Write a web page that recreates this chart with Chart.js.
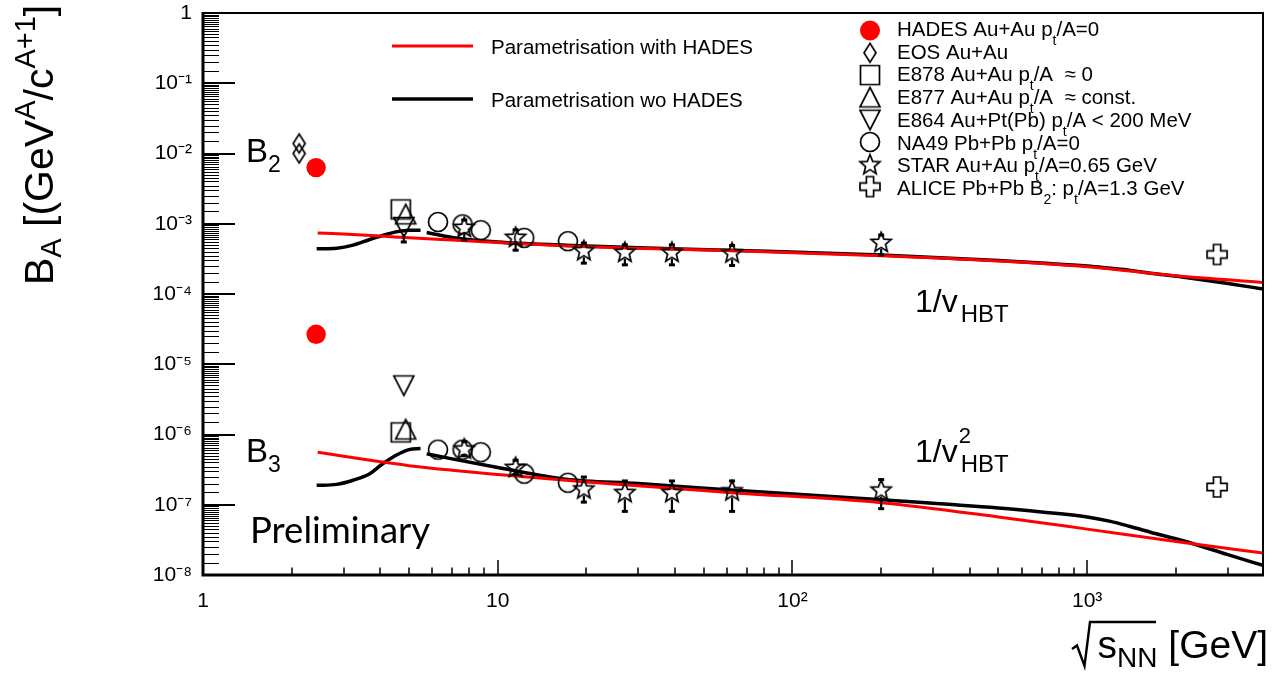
<!DOCTYPE html>
<html><head><meta charset="utf-8">
<script src="https://cdn.jsdelivr.net/npm/chart.js@4.4.1/dist/chart.umd.min.js"></script>
<style>html,body{margin:0;padding:0;background:#fff;overflow:hidden}canvas{display:block}</style>
</head><body>
<canvas id="c" width="1274" height="673" style="width:1274px;height:673px"></canvas>
<script>
// ---------------- data ----------------
const xTickValues = [1, 10, 100, 1000];
const xTickLabels = ['1', '10', '10²', '10³'];
const yTickValues = [1e-8, 1e-7, 1e-6, 1e-5, 1e-4, 1e-3, 1e-2, 1e-1, 1];
const yTickLabels = ['10⁻⁸', '10⁻⁷', '10⁻⁶', '10⁻⁵', '10⁻⁴', '10⁻³', '10⁻²', '10⁻¹', '1'];

const hadesX = [2.42, 2.42];
const hadesY = [6.3e-3, 2.67e-5];
const eosX = [2.12, 2.12];
const eosY = [1.39e-2, 1.0e-2];
const e878X = [4.69, 4.69];
const e878Y = [1.6e-3, 1.07e-6];
const e877X = [4.87, 4.87];
const e877Y = [1.36e-3, 1.18e-6];
const e864X = [4.8, 4.8];
const e864Y = [9.0e-4, 5.0e-6];
const e864Lo = [5.5e-4, 5.0e-6];
const e864Hi = [9.0e-4, 5.0e-6];
const na49X = [6.27, 7.6, 8.76, 12.3, 17.3];
const na49B2 = [1.06e-3, 9.8e-4, 8.1e-4, 6.3e-4, 5.65e-4];
const na49B3 = [6.1e-7, 6.1e-7, 5.6e-7, 2.77e-7, 2.06e-7];
const starX = [7.7, 11.5, 19.6, 27, 39, 62.4, 200];
const starB2 = [9.0e-4, 6.5e-4, 4.2e-4, 3.98e-4, 3.98e-4, 3.9e-4, 5.5e-4];
const starB2Lo = [5.9e-4, 4.2e-4, 2.75e-4, 2.6e-4, 2.6e-4, 2.55e-4, 3.6e-4];
const starB2Hi = [1.13e-3, 8.2e-4, 5.3e-4, 5.0e-4, 5.0e-4, 4.9e-4, 6.9e-4];
const starB3 = [6.3e-7, 3.44e-7, 1.7e-7, 1.51e-7, 1.51e-7, 1.6e-7, 1.64e-7];
const starB3Lo = [5.0e-7, 2.7e-7, 1.09e-7, 8.05e-8, 8.05e-8, 8.05e-8, 8.8e-8];
const starB3Hi = [7.9e-7, 4.3e-7, 2.48e-7, 2.18e-7, 2.18e-7, 2.18e-7, 2.28e-7];
const aliceX = [2760, 2760];
const aliceY = [3.65e-4, 1.79e-7];

// parametrisation curves
const redX = [2.45, 3, 4, 5, 7, 10, 20, 60, 200, 500, 1000, 2000, 3950];
const redB2 = [7.4e-4, 7.15e-4, 6.7e-4, 6.3e-4, 5.85e-4, 5.4e-4, 4.7e-4, 4.15e-4, 3.5e-4, 2.95e-4, 2.45e-4, 1.82e-4, 1.46e-4];
const redB3 = [5.6e-7, 4.9e-7, 4.1e-7, 3.6e-7, 3.1e-7, 2.7e-7, 2.1e-7, 1.5e-7, 1.07e-7, 6.7e-8, 4.5e-8, 3.0e-8, 2.05e-8];
const blackLowX = [2.43, 2.84, 3.23, 3.68, 4.03, 4.52, 5.0, 5.47];
const blackLowB2 = [4.4e-4, 4.49e-4, 4.96e-4, 5.97e-4, 6.73e-4, 7.67e-4, 8.1e-4, 8.1e-4];
const blackLowB3 = [1.89e-7, 1.95e-7, 2.23e-7, 2.77e-7, 3.71e-7, 5.06e-7, 6.1e-7, 6.3e-7];
const blackHighX = [5.74, 7, 10, 17, 30, 60, 200, 500, 700, 1000, 1200, 1400, 1700, 2100, 3000, 3950];
const blackHighB2 = [7.5e-4, 6.4e-4, 5.5e-4, 4.95e-4, 4.55e-4, 4.2e-4, 3.6e-4, 3.0e-4, 2.76e-4, 2.5e-4, 2.32e-4, 2.17e-4, 1.94e-4, 1.75e-4, 1.41e-4, 1.18e-4];
const blackHighB3 = [5.3e-7, 4.5e-7, 3.4e-7, 2.3e-7, 2.0e-7, 1.64e-7, 1.18e-7, 9.0e-8, 7.9e-8, 6.7e-8, 5.8e-8, 4.9e-8, 3.9e-8, 3.1e-8, 1.95e-8, 1.37e-8];

const legendLineLabels = ['Parametrisation with HADES', 'Parametrisation wo HADES'];
const legendMarkerLabels = [
  [['HADES Au+Au p'], ['t', 1], ['/A=0']],
  [['EOS Au+Au']],
  [['E878 Au+Au p'], ['t', 1], ['/A  ≈ 0']],
  [['E877 Au+Au p'], ['t', 1], ['/A  ≈ const.']],
  [['E864 Au+Pt(Pb) p'], ['t', 1], ['/A < 200 MeV']],
  [['NA49 Pb+Pb p'], ['t', 1], ['/A=0']],
  [['STAR Au+Au p'], ['t', 1], ['/A=0.65 GeV']],
  [['ALICE Pb+Pb B'], ['2', 1], [': p'], ['t', 1], ['/A=1.3 GeV']]
];

// ---------------- styling helpers ----------------
const FONT = '"Liberation Sans", Arial, Helvetica, sans-serif';
const pts = (xs, ys) => xs.map((x, i) => ({ x: x, y: ys[i] }));

function makeMarker(pathFn) {
  const c = document.createElement('canvas');
  c.width = 30; c.height = 30;
  const g = c.getContext('2d');
  g.translate(15, 15);
  g.strokeStyle = '#000';
  g.lineWidth = 1.7;
  g.lineJoin = 'miter';
  g.beginPath();
  pathFn(g);
  g.closePath();
  g.stroke();
  return c;
}
function poly(g, p) { g.moveTo(p[0][0], p[0][1]); for (let i = 1; i < p.length; i++) g.lineTo(p[i][0], p[i][1]); }
const M = {
  circle: makeMarker(g => g.arc(0, 0, 9.5, 0, Math.PI * 2)),
  square: makeMarker(g => g.rect(-9.5, -9.5, 19, 19)),
  triUp: makeMarker(g => poly(g, [[0, -10], [10, 9.5], [-10, 9.5]])),
  triDown: makeMarker(g => poly(g, [[0, 10], [10, -9.5], [-10, -9.5]])),
  diamond: makeMarker(g => poly(g, [[0, -9.5], [6, 0], [0, 9.5], [-6, 0]])),
  star: makeMarker(g => {
    const p = [];
    for (let k = 0; k < 10; k++) {
      const r = k % 2 ? 4.6 : 10.5, a = -Math.PI / 2 + k * Math.PI / 5;
      p.push([r * Math.cos(a), r * Math.sin(a) + 0.8]);
    }
    poly(g, p);
  }),
  cross: makeMarker(g => {
    const a = 3.6, b = 10;
    poly(g, [[-a, -b], [a, -b], [a, -a], [b, -a], [b, a], [a, a], [a, b], [-a, b], [-a, a], [-b, a], [-b, -a], [-a, -a]]);
  })
};

function markerSet(label, xs, ys, style, extra) {
  return Object.assign({
    label: label, data: pts(xs, ys), showLine: false, order: 1,
    pointStyle: style, pointRadius: 10, pointHoverRadius: 10,
    borderColor: '#000', backgroundColor: 'rgba(0,0,0,0)'
  }, extra || {});
}
function curveSet(label, xs, ys, color, width) {
  return {
    label: label, data: pts(xs, ys), showLine: true, order: 2,
    borderColor: color, borderWidth: width, pointRadius: 0, fill: false,
    cubicInterpolationMode: 'monotone', borderCapStyle: 'butt'
  };
}

const datasets = [
  markerSet('HADES Au+Au', hadesX, hadesY, 'circle', { backgroundColor: '#ff0000', borderColor: '#ff0000', borderWidth: 0, pointRadius: 9.7 }),
  markerSet('EOS Au+Au', eosX, eosY, M.diamond),
  markerSet('E878 Au+Au', e878X, e878Y, M.square),
  markerSet('E877 Au+Au', e877X, e877Y, M.triUp),
  markerSet('E864 Au+Pt(Pb)', e864X, e864Y, M.triDown, { errLo: e864Lo, errHi: e864Hi }),
  markerSet('NA49 Pb+Pb B2', na49X, na49B2, M.circle),
  markerSet('NA49 Pb+Pb B3', na49X, na49B3, M.circle),
  markerSet('STAR Au+Au B2', starX, starB2, M.star, { errLo: starB2Lo, errHi: starB2Hi }),
  markerSet('STAR Au+Au B3', starX, starB3, M.star, { errLo: starB3Lo, errHi: starB3Hi }),
  markerSet('ALICE Pb+Pb', aliceX, aliceY, M.cross),
  curveSet('Parametrisation with HADES B2', redX, redB2, '#ff0000', 3),
  curveSet('Parametrisation with HADES B3', redX, redB3, '#ff0000', 3),
  curveSet('Parametrisation wo HADES B2 low', blackLowX, blackLowB2, '#000000', 3.5),
  curveSet('Parametrisation wo HADES B2 high', blackHighX, blackHighB2, '#000000', 3.5),
  curveSet('Parametrisation wo HADES B3 low', blackLowX, blackLowB3, '#000000', 3.5),
  curveSet('Parametrisation wo HADES B3 high', blackHighX, blackHighB3, '#000000', 3.5)
];

// ---------------- plugins ----------------
function drawRich(ctx, x, y, segs, align) {
  let w = 0;
  for (const s of segs) { ctx.font = s[1] + 'px ' + (s[3] || FONT); w += ctx.measureText(s[0]).width; }
  let cx = align === 'right' ? x - w : x;
  for (const s of segs) {
    ctx.font = s[1] + 'px ' + (s[3] || FONT);
    ctx.fillText(s[0], cx, y + (s[2] || 0));
    cx += ctx.measureText(s[0]).width;
  }
  return cx;
}

const errorBarPlugin = {
  id: 'errbars',
  afterDatasetsDraw(chart) {
    const ctx = chart.ctx, ys = chart.scales.y;
    chart.data.datasets.forEach((ds, di) => {
      if (!ds.errLo) return;
      const meta = chart.getDatasetMeta(di);
      ctx.save();
      ctx.strokeStyle = '#000'; ctx.fillStyle = '#000'; ctx.lineWidth = 2.2;
      meta.data.forEach((pt, i) => {
        const lo = ds.errLo[i], hi = ds.errHi[i];
        if (lo == null) return;
        const yLo = ys.getPixelForValue(lo), yHi = ys.getPixelForValue(hi);
        const x = pt.x, yc = pt.y, gap = 7;
        ctx.beginPath();
        if (yLo > yc + gap) { ctx.moveTo(x, yc + gap); ctx.lineTo(x, yLo); }
        if (yHi < yc - gap) { ctx.moveTo(x, yc - gap); ctx.lineTo(x, yHi); }
        ctx.stroke();
        if (yLo - yc > 2) ctx.fillRect(x - 3, yLo - 1.5, 6, 3);
        if (yc - yHi > 2) ctx.fillRect(x - 3, yHi - 1.5, 6, 3);
      });
      ctx.restore();
    });
  }
};

const decorPlugin = {
  id: 'decor',
  afterDraw(chart) {
    const ctx = chart.ctx, a = chart.chartArea, xs = chart.scales.x, ys = chart.scales.y;
    ctx.save();
    ctx.strokeStyle = '#000'; ctx.fillStyle = '#000';
    // frame
    ctx.lineWidth = 2;
    ctx.beginPath();
    ctx.moveTo(a.left, a.top); ctx.lineTo(a.right, a.top); ctx.lineTo(a.right, a.bottom);
    ctx.stroke();
    ctx.lineWidth = 3;
    ctx.beginPath();
    ctx.moveTo(a.left, a.top - 1); ctx.lineTo(a.left, a.bottom); ctx.lineTo(a.right + 1, a.bottom);
    ctx.stroke();
    // inner ticks, x
    ctx.lineWidth = 1.5;
    ctx.beginPath();
    for (let d = 0; d <= 3; d++) {
      for (let k = 1; k <= 9; k++) {
        const v = k * Math.pow(10, d);
        if (v <= xs.min || v >= xs.max) continue;
        const px = Math.round(xs.getPixelForValue(v));
        const len = k === 1 ? 15 : 7.5;
        ctx.moveTo(px, a.bottom); ctx.lineTo(px, a.bottom - len);
      }
    }
    ctx.stroke();
    // inner ticks, y
    ctx.lineWidth = 1;
    ctx.beginPath();
    for (let d = -8; d <= 0; d++) {
      for (let k = 1; k < 10; k += 0.5) {
        const v = k * Math.pow(10, d);
        if (v <= ys.min || v >= ys.max) continue;
        const py = Math.round(ys.getPixelForValue(v)) + 0.5;
        const len = k === 1 ? 32 : 16;
        ctx.moveTo(a.left, py); ctx.lineTo(a.left + len, py);
      }
    }
    ctx.stroke();
    ctx.lineWidth = 2;
    ctx.beginPath();
    for (let d = -7; d <= -1; d++) {
      const py = Math.round(ys.getPixelForValue(Math.pow(10, d)));
      ctx.moveTo(a.left, py); ctx.lineTo(a.left + 32, py);
    }
    ctx.stroke();

    // axis titles
    ctx.textAlign = 'left'; ctx.textBaseline = 'alphabetic';
    ctx.save();
    ctx.translate(53, 285);
    ctx.rotate(-Math.PI / 2);
    drawRich(ctx, 0, 0, [['B', 41], ['A', 29, 8], [' [(GeV', 41], ['A', 29, -18], ['/c', 41], ['A+1', 29, -18], [']', 41]]);
    ctx.restore();

    drawRich(ctx, 1268, 658, [['s', 39], ['NN', 28, 9], [' [GeV]', 39]], 'right');
    // radical sign
    ctx.lineWidth = 2.4; ctx.lineJoin = 'miter';
    ctx.beginPath();
    ctx.moveTo(1072, 649); ctx.lineTo(1077, 645.5); ctx.lineTo(1084.5, 666); ctx.lineTo(1090, 622); ctx.lineTo(1156, 622);
    ctx.stroke();

    // annotations
    drawRich(ctx, 246, 162, [['B', 33], ['2', 23, 10]]);
    drawRich(ctx, 246, 462, [['B', 33], ['3', 23, 10]]);
    drawRich(ctx, 250, 543, [['Preliminary', 36.5, 0, 'Lato, "Open Sans", sans-serif']]);
    let e1 = drawRich(ctx, 915, 312, [['1/v', 32]]);
    drawRich(ctx, e1 + 3, 322, [['HBT', 24]]);
    let e2 = drawRich(ctx, 915, 461.5, [['1/v', 32]]);
    drawRich(ctx, e2 + 1, 443, [['2', 22]]);
    drawRich(ctx, e2 + 3, 471.5, [['HBT', 24]]);

    // line legend
    const lineColors = ['#ff0000', '#000000'];
    const lineYs = [46, 99];
    for (let i = 0; i < 2; i++) {
      ctx.strokeStyle = lineColors[i]; ctx.lineWidth = i ? 3.5 : 3;
      ctx.beginPath(); ctx.moveTo(392, lineYs[i]); ctx.lineTo(473, lineYs[i]); ctx.stroke();
      ctx.fillStyle = '#000';
      drawRich(ctx, 491, lineYs[i] + 7.5, [[legendLineLabels[i], 20.5]]);
    }
    // marker legend
    const legendMarkers = [null, M.diamond, M.square, M.triUp, M.triDown, M.circle, M.star, M.cross];
    for (let i = 0; i < legendMarkerLabels.length; i++) {
      const my = 30.5 + 22.3 * i, by = 36 + 22.7 * i;
      if (i === 0) {
        ctx.fillStyle = '#ff0000';
        ctx.beginPath(); ctx.arc(870, my, 10, 0, Math.PI * 2); ctx.fill();
        ctx.fillStyle = '#000';
      } else {
        ctx.drawImage(legendMarkers[i], 870 - 15, my - 15);
      }
      const segs = legendMarkerLabels[i].map(s => s[1] ? [s[0], 14, 9] : [s[0], 20.5]);
      drawRich(ctx, 897, by, segs);
    }
    ctx.restore();
  }
};

function zeroPad(s) { s.paddingLeft = 0; s.paddingRight = 0; s.paddingTop = 0; s.paddingBottom = 0; }

// ---------------- chart ----------------
new Chart(document.getElementById('c'), {
  type: 'scatter',
  data: { datasets: datasets },
  options: {
    responsive: false,
    animation: false,
    events: [],
    layout: { padding: { left: 0, right: 6, top: 13, bottom: 0 } },
    plugins: { legend: { display: false }, tooltip: { enabled: false } },
    scales: {
      x: {
        type: 'logarithmic', min: 1, max: 3950, position: 'bottom',
        grid: { display: false, drawTicks: false, tickLength: 0 },
        border: { display: false },
        afterBuildTicks: s => { s.ticks = xTickValues.map(v => ({ value: v })); },
        afterFit: s => { s.height = 98; zeroPad(s); },
        ticks: {
          autoSkip: false, maxRotation: 0, minRotation: 0, padding: 14, color: '#000',
          font: { family: FONT, size: 21 },
          callback: v => { const i = xTickValues.indexOf(v); return i >= 0 ? xTickLabels[i] : ''; }
        }
      },
      y: {
        type: 'logarithmic', min: 1e-8, max: 1, position: 'left',
        grid: { display: false, drawTicks: false, tickLength: 0 },
        border: { display: false },
        afterBuildTicks: s => { s.ticks = yTickValues.map(v => ({ value: v })); },
        afterFit: s => { s.width = 203; zeroPad(s); },
        ticks: {
          autoSkip: false, padding: 11, color: '#000',
          font: { family: FONT, size: 21 },
          callback: v => { const i = yTickValues.findIndex(t => Math.abs(t - v) / t < 1e-6); return i >= 0 ? yTickLabels[i] : ''; }
        }
      }
    }
  },
  plugins: [errorBarPlugin, decorPlugin]
});
</script>
</body></html>
